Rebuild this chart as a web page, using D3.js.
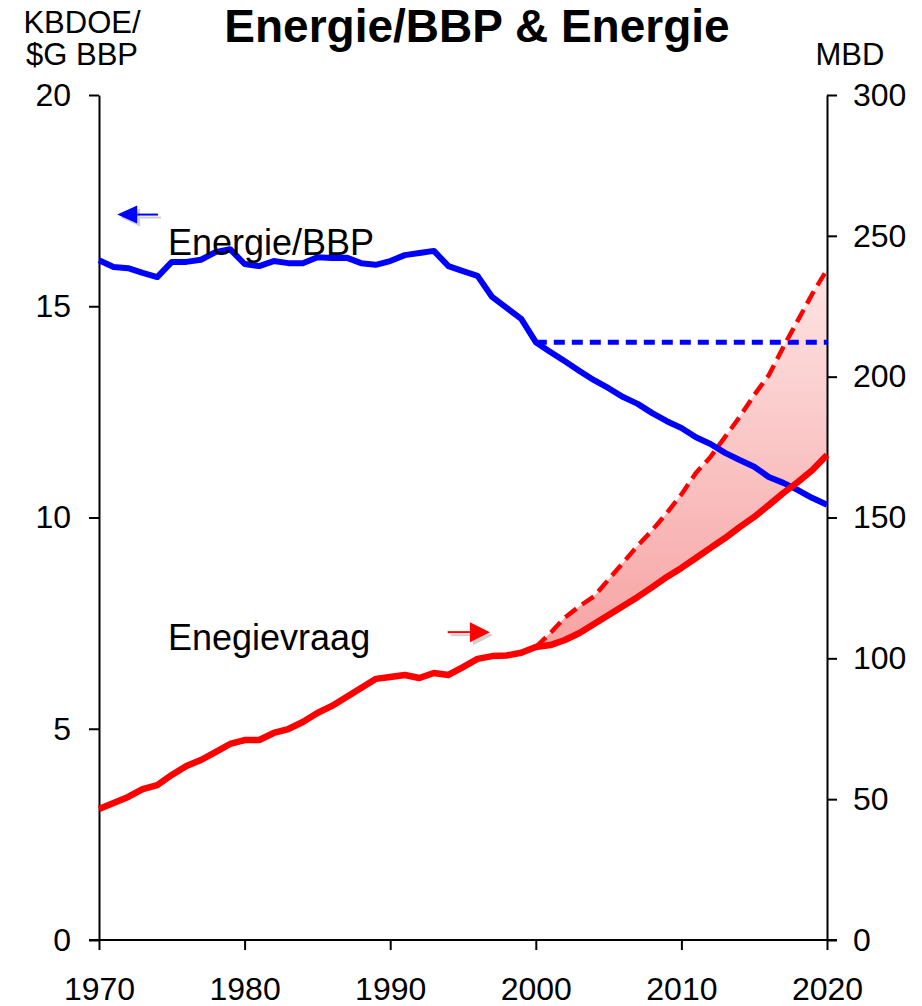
<!DOCTYPE html>
<html>
<head>
<meta charset="utf-8">
<script src="https://cdn.jsdelivr.net/npm/d3@7"></script>
<style>
  body { margin: 0; background: #fff; }
  svg { font-family: "Liberation Sans", Arial, sans-serif; }
</style>
</head>
<body>
<div id="chart"></div>
<script>
var fullWidth = 922;
var fullHeight = 1006;

// x positions of the axes and the plot box
var x0 = 99, x1 = 827;
var yTop = 95, yBottom = 940;

// data
var years = [1970, 1971, 1972, 1973, 1974, 1975, 1976, 1977, 1978, 1979,
    1980, 1981, 1982, 1983, 1984, 1985, 1986, 1987, 1988, 1989,
    1990, 1991, 1992, 1993, 1994, 1995, 1996, 1997, 1998, 1999,
    2000, 2001, 2002, 2003, 2004, 2005, 2006, 2007, 2008, 2009,
    2010, 2011, 2012, 2013, 2014, 2015, 2016, 2017, 2018, 2019, 2020];

// KBDOE / $G BBP (left axis)
var energiePerBBP = [16.09, 15.93, 15.90, 15.79, 15.69, 16.05, 16.05, 16.10, 16.28, 16.35,
    16.00, 15.95, 16.07, 16.02, 16.02, 16.16, 16.14, 16.15, 16.02, 15.98,
    16.07, 16.21, 16.26, 16.31, 15.95, 15.83, 15.72, 15.22, 14.96, 14.70,
    14.15, 13.92, 13.70, 13.47, 13.25, 13.06, 12.85, 12.69, 12.47, 12.28,
    12.12, 11.90, 11.74, 11.53, 11.36, 11.20, 10.96, 10.82, 10.65, 10.46, 10.30];

// MBD (right axis)
var energievraag = [46.5, 48.6, 50.8, 53.6, 55.0, 58.6, 61.8, 63.9, 66.7, 69.6,
    71.0, 71.0, 73.5, 74.9, 77.4, 80.6, 83.1, 86.3, 89.5, 92.7,
    93.4, 94.1, 93.0, 94.8, 94.1, 96.9, 99.8, 100.8, 101.0, 102.0,
    104.0, 104.7, 106.5, 109.0, 112.2, 115.4, 118.6, 121.8, 125.3, 128.9,
    132.1, 135.6, 139.2, 142.7, 146.6, 150.2, 154.4, 158.7, 162.6, 166.9, 172.2];

// scenario with constant energy/BBP after 2000 (MBD)
var scenarioYears = [2000, 2001, 2002, 2003, 2004, 2005, 2006, 2007, 2008, 2009,
    2010, 2011, 2012, 2013, 2014, 2015, 2016, 2017, 2018, 2019, 2020];
var scenarioVraag = [104.0, 109.0, 114.5, 118.5, 122.0, 128.0, 134.0, 140.0, 145.5, 151.6,
    158.2, 165.8, 171.5, 178.6, 185.7, 193.5, 200.5, 210.5, 220.0, 229.5, 238.0];

var flatYears = [2000, 2020];
var flatValues = [14.15, 14.15];

var leftTicks = [0, 5, 10, 15, 20];
var rightTicks = [0, 50, 100, 150, 200, 250, 300];
var yearTicks = [1970, 1980, 1990, 2000, 2010, 2020];

var svg = d3.select("#chart")
    .append("svg")
    .attr("width", fullWidth)
    .attr("height", fullHeight);

var x = d3.scaleLinear().domain([1970, 2020]).range([x0, x1]);
var yL = d3.scaleLinear().domain([0, 20]).range([yBottom, yTop]);
var yR = d3.scaleLinear().domain([0, 300]).range([yBottom, yTop]);

// gradient for the gap area
var defs = svg.append("defs");
var grad = defs.append("linearGradient")
    .attr("id", "gapFill")
    .attr("gradientUnits", "userSpaceOnUse")
    .attr("x1", 0).attr("x2", 0)
    .attr("y1", yR(238)).attr("y2", yR(104));
grad.append("stop").attr("offset", "0%").attr("stop-color", "#fde4e4");
grad.append("stop").attr("offset", "100%").attr("stop-color", "#f7a3a3");

// area between scenario and actual demand
var gapData = scenarioYears.map(function (yr, i) {
    return { year: yr, top: scenarioVraag[i], bottom: energievraag[years.indexOf(yr)] };
});
var area = d3.area()
    .x(function (d) { return x(d.year); })
    .y0(function (d) { return yR(d.bottom); })
    .y1(function (d) { return yR(d.top); });
svg.append("path")
    .datum(gapData)
    .attr("d", area)
    .attr("fill", "url(#gapFill)");

// axes
var bottomAxis = svg.append("g")
    .attr("transform", "translate(0," + yBottom + ")")
    .call(d3.axisBottom(x).tickValues(yearTicks).tickFormat(d3.format("d"))
        .tickSize(10).tickPadding(27).tickSizeOuter(0));
var leftAxis = svg.append("g")
    .attr("transform", "translate(" + x0 + ",0)")
    .call(d3.axisLeft(yL).tickValues(leftTicks).tickSize(10).tickPadding(18).tickSizeOuter(0));
var rightAxis = svg.append("g")
    .attr("transform", "translate(" + x1 + ",0)")
    .call(d3.axisRight(yR).tickValues(rightTicks).tickSize(10).tickPadding(16).tickSizeOuter(0));

[bottomAxis, leftAxis, rightAxis].forEach(function (ax) {
    ax.select(".domain").attr("stroke", "#000").attr("stroke-width", 2);
    ax.selectAll(".tick line").attr("stroke", "#000").attr("stroke-width", 2);
    ax.selectAll(".tick text")
        .attr("fill", "#000")
        .style("font-family", "'Liberation Sans', Arial, sans-serif")
        .style("font-size", "32px");
});
// bottom axis line runs across the left and right tick marks
bottomAxis.select(".domain").attr("d", "M" + (x0 - 10) + ",0H" + (x1 + 10));

// lines
var lineL = d3.line()
    .x(function (d) { return x(d[0]); })
    .y(function (d) { return yL(d[1]); });
var lineR = d3.line()
    .x(function (d) { return x(d[0]); })
    .y(function (d) { return yR(d[1]); });

svg.append("path")
    .datum(d3.zip(flatYears, flatValues))
    .attr("d", lineL)
    .attr("fill", "none")
    .attr("stroke", "#0000ff")
    .attr("stroke-width", 5)
    .attr("stroke-dasharray", "11,7");

svg.append("path")
    .datum(d3.zip(scenarioYears, scenarioVraag))
    .attr("d", lineR)
    .attr("fill", "none")
    .attr("stroke", "#ff0000")
    .attr("stroke-width", 4.5)
    .attr("stroke-dasharray", "14,7");

svg.append("path")
    .datum(d3.zip(years, energiePerBBP))
    .attr("d", lineL)
    .attr("fill", "none")
    .attr("stroke", "#0000ff")
    .attr("stroke-width", 6)
    .attr("stroke-linejoin", "round");

svg.append("path")
    .datum(d3.zip(years, energievraag))
    .attr("d", lineR)
    .attr("fill", "none")
    .attr("stroke", "#ff0000")
    .attr("stroke-width", 6.5)
    .attr("stroke-linejoin", "round");

// arrows pointing at the axis each line belongs to
function arrow(xTail, xTip, yPos, color) {
    var dir = xTip > xTail ? 1 : -1;
    var headLen = 20, half = dir > 0 ? 10 : 9;
    var g = svg.append("g");
    [["#cfcfcf", 3], [color, 0]].forEach(function (p) {
        var o = p[1];
        g.append("line")
            .attr("x1", xTail + o).attr("x2", xTip - dir * headLen + o)
            .attr("y1", yPos + o).attr("y2", yPos + o)
            .attr("stroke", p[0]).attr("stroke-width", 2);
        g.append("path")
            .attr("d", "M" + (xTip + o) + "," + (yPos + o) +
                "L" + (xTip - dir * headLen + o) + "," + (yPos - half + o) +
                "L" + (xTip - dir * headLen + o) + "," + (yPos + half + o) + "Z")
            .attr("fill", p[0]);
    });
}
arrow(x(1974.05), x(1971.25), yL(17.17), "#0000ff");
arrow(x(1993.95), x(1996.85), yR(109.3), "#ff0000");

// labels
svg.append("text")
    .attr("x", 168).attr("y", 255)
    .style("font-size", "36px")
    .text("Energie/BBP");
svg.append("text")
    .attr("x", 168).attr("y", 650)
    .style("font-size", "36px")
    .text("Enegievraag");

svg.append("text")
    .attr("x", 477).attr("y", 42)
    .attr("text-anchor", "middle")
    .style("font-size", "46px")
    .style("font-weight", "bold")
    .text("Energie/BBP & Energie");

svg.append("text")
    .attr("x", 82).attr("y", 33)
    .attr("text-anchor", "middle")
    .style("font-size", "31px")
    .text("KBDOE/");
svg.append("text")
    .attr("x", 82).attr("y", 65)
    .attr("text-anchor", "middle")
    .style("font-size", "31px")
    .text("$G BBP");
svg.append("text")
    .attr("x", 850).attr("y", 65)
    .attr("text-anchor", "middle")
    .style("font-size", "31px")
    .text("MBD");
</script>
</body>
</html>
